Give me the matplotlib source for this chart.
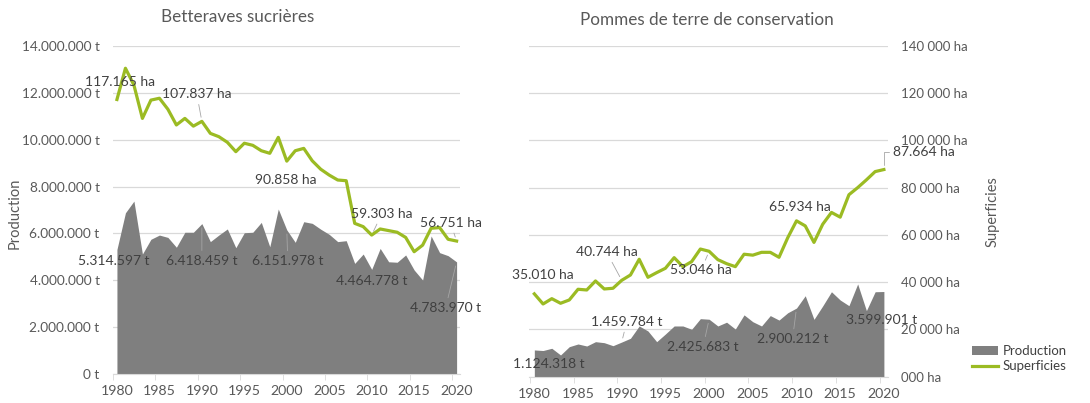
import numpy as np
import matplotlib
matplotlib.use('Agg')
import matplotlib.pyplot as plt
from matplotlib.patches import Patch
from matplotlib.lines import Line2D
from matplotlib.ticker import FuncFormatter

plt.rcParams['font.family'] = ['Lato', 'DejaVu Sans']

years = np.arange(1980, 2021)

# Betteraves sucrieres : production (t) et superficies (ha)
bet_prod = [5314597, 6880000, 7380000, 5120000, 5750000, 5930000, 5830000, 5410000, 6050000, 6050000,
            6418459, 5650000, 5930000, 6190000, 5390000, 6030000, 6050000, 6470000, 5430000, 7040000,
            6151978, 5620000, 6500000, 6430000, 6180000, 5960000, 5650000, 5690000, 4720000, 5120000,
            4464778, 5360000, 4790000, 4770000, 5080000, 4440000, 4010000, 5890000, 5180000, 5050000,
            4783970]
bet_surf = [117165, 130500, 123300, 109100, 116900, 117700, 113000, 106300, 109100, 105800,
            107837, 102700, 101300, 98900, 94900, 98500, 97600, 95300, 94200, 101000,
            90858, 95300, 96300, 91000, 87400, 84900, 82800, 82500, 64300, 62900,
            59303, 61900, 61200, 60500, 58300, 52200, 55000, 62200, 62500, 57500,
            56751]

# Pommes de terre de conservation
pdt_prod = [1124318, 1100000, 1195000, 911000, 1263000, 1377000, 1292000, 1475000, 1432000, 1305000,
            1459784, 1619000, 2140000, 1928000, 1475000, 1800000, 2140000, 2140000, 2000000, 2450000,
            2425683, 2140000, 2300000, 2010000, 2610000, 2320000, 2140000, 2580000, 2390000, 2700000,
            2900212, 3420000, 2420000, 2990000, 3590000, 3240000, 3000000, 3920000, 2790000, 3590000,
            3599901]
pdt_surf = [35010, 30720, 32970, 31020, 32420, 36950, 36650, 40470, 37080, 37370,
            40744, 43000, 49660, 42030, 44000, 45850, 50340, 46530, 48650, 54000,
            53046, 49500, 47800, 46530, 51800, 51400, 52600, 52600, 50500, 58800,
            65934, 63800, 56800, 64500, 69500, 67500, 77000, 80000, 83300, 86800,
            87664]

label_years = [1980, 1990, 2000, 2010, 2020]

W, H = 1090, 403
GREEN = '#9bbb23'
GREY = '#7f7f7f'
TXT = '#595959'
LBL = '#404040'

fig = plt.figure(figsize=(W / 100, H / 100), dpi=100)


def box(x0, y0, x1, y1):
    return [x0 / W, 1 - y1 / H, (x1 - x0) / W, (y1 - y0) / H]


def fmt_t(v):
    return f"{int(round(v)):,}".replace(',', '.') + " t"


def fmt_ha(v):
    return f"{int(round(v)):,}".replace(',', '.') + " ha"


def setup(ax, xlim):
    ax.set_xlim(*xlim)
    ax.set_ylim(0, 14e6)
    ax.set_yticks(np.arange(0, 14e6 + 1, 2e6))
    ax.grid(axis='y', color='#d9d9d9', lw=0.9)
    ax.set_axisbelow(True)
    for s in ['top', 'left', 'right']:
        ax.spines[s].set_visible(False)
    ax.spines['bottom'].set_color('#d9d9d9')
    ax.set_xticks(np.arange(1980, 2021, 5))
    ax.set_xticks(np.arange(1979.5, 2021, 5), minor=True)
    ax.tick_params(axis='x', which='major', length=0, pad=8, labelsize=10.2, labelcolor=TXT)
    ax.tick_params(axis='x', which='minor', length=4, color='#d9d9d9')


def put(ax, x, y, txt, dx, dy, leader=False, conn=None):
    kw = {}
    if leader:
        ap = dict(arrowstyle='-', color='#a6a6a6', lw=0.6, shrinkA=1, shrinkB=3)
        if conn:
            ap['connectionstyle'] = conn
        kw['arrowprops'] = ap
    ax.annotate(txt, xy=(x, y), xytext=(dx, dy), textcoords='offset pixels',
                ha='center', va='center', fontsize=10, color=LBL, **kw)


# ---------------- Betteraves sucrieres ----------------
ax1 = fig.add_axes(box(112.7, 46, 460, 374))
setup(ax1, (1979.65, 2020.4))
ax1.fill_between(years, bet_prod, color=GREY, lw=0)
ax1.yaxis.set_major_formatter(FuncFormatter(lambda v, p: fmt_t(v)))

ax2 = ax1.twinx()
ax2.set_ylim(0, 140000)
ax2.set_yticks([])
for s in ax2.spines.values():
    s.set_visible(False)
ax2.plot(years, bet_surf, color=GREEN, lw=2.3, solid_joinstyle='round')
ax1.tick_params(axis='y', length=0, pad=9.5, labelsize=9.8, labelcolor=TXT)

surf_off = [(3, 17, False), (-5, 27, True), (-1, -19, False), (10, 21, True), (-6, 18, True)]
prod_off = [(-3, -11.5, False), (0, -37, True), (1, -31, True), (0, -11.5, False), (-11, -46, True)]
for yr, (dx, dy, ld) in zip(label_years, surf_off):
    v = bet_surf[yr - 1980]
    put(ax2, yr, v, fmt_ha(v), dx, dy, ld)
for yr, (dx, dy, ld) in zip(label_years, prod_off):
    v = bet_prod[yr - 1980]
    put(ax1, yr, v, fmt_t(v), dx, dy, ld)

# ---------------- Pommes de terre de conservation ----------------
ax3 = fig.add_axes(box(529, 46, 888, 376.5))
setup(ax3, (1979.39, 2020.47))
ax3.fill_between(years, pdt_prod, color=GREY, lw=0)

ax4 = ax3.twinx()
ax4.set_ylim(0, 140000)
ax4.set_yticks(np.arange(0, 140001, 20000))
ax4.yaxis.set_major_formatter(FuncFormatter(
    lambda v, p: (f"{int(v) // 1000} 000 ha" if v > 0 else "000 ha")))
ax4.tick_params(axis='y', length=0, pad=9.5, labelsize=9.5, labelcolor=TXT)
for s in ax4.spines.values():
    s.set_visible(False)
ax4.plot(years, pdt_surf, color=GREEN, lw=2.3, solid_joinstyle='round')
ax3.tick_params(axis='y', left=False, right=False, labelleft=False, length=0)

surf_off = [(8, 19, False), (-15, 28, True), (-8, -19, True), (3, 14, False), (40, 18, True)]
prod_off = [(14, -14, False), (5, 20, True), (-6, -27.5, True), (-4, -31, True), (-2, -28, False)]
for i, (yr, (dx, dy, ld)) in enumerate(zip(label_years, surf_off)):
    v = pdt_surf[yr - 1980]
    conn = 'angle,angleA=0,angleB=90,rad=0' if i == 4 else None
    put(ax4, yr, v, fmt_ha(v), dx, dy, ld, conn)
for yr, (dx, dy, ld) in zip(label_years, prod_off):
    v = pdt_prod[yr - 1980]
    put(ax3, yr, v, fmt_t(v), dx, dy, ld)

# titles, axis titles, legend
fig.text(237.5 / W, 1 - 17.5 / H, 'Betteraves sucrières', ha='center', va='center',
         fontsize=12.3, color=TXT)
fig.text(706.5 / W, 1 - 20 / H, 'Pommes de terre de conservation', ha='center', va='center',
         fontsize=12.3, color=TXT)
fig.text(15 / W, 1 - 213 / H, 'Production', rotation=90, ha='center', va='center',
         fontsize=10.5, color=TXT)
fig.text(993 / W, 1 - 212 / H, 'Superficies', rotation=90, ha='center', va='center',
         fontsize=10.5, color=TXT)

handles = [Patch(facecolor=GREY, edgecolor='none'), Line2D([], [], color=GREEN, lw=2.3)]
fig.legend(handles, ['Production', 'Superficies'], loc='upper left',
           bbox_to_anchor=(972 / W, 1 - 345 / H), frameon=False, fontsize=9.5,
           handlelength=2.0, handletextpad=0.3, labelspacing=0.25, borderpad=0,
           borderaxespad=0, labelcolor=LBL)

fig.savefig('out.png', dpi=100)
